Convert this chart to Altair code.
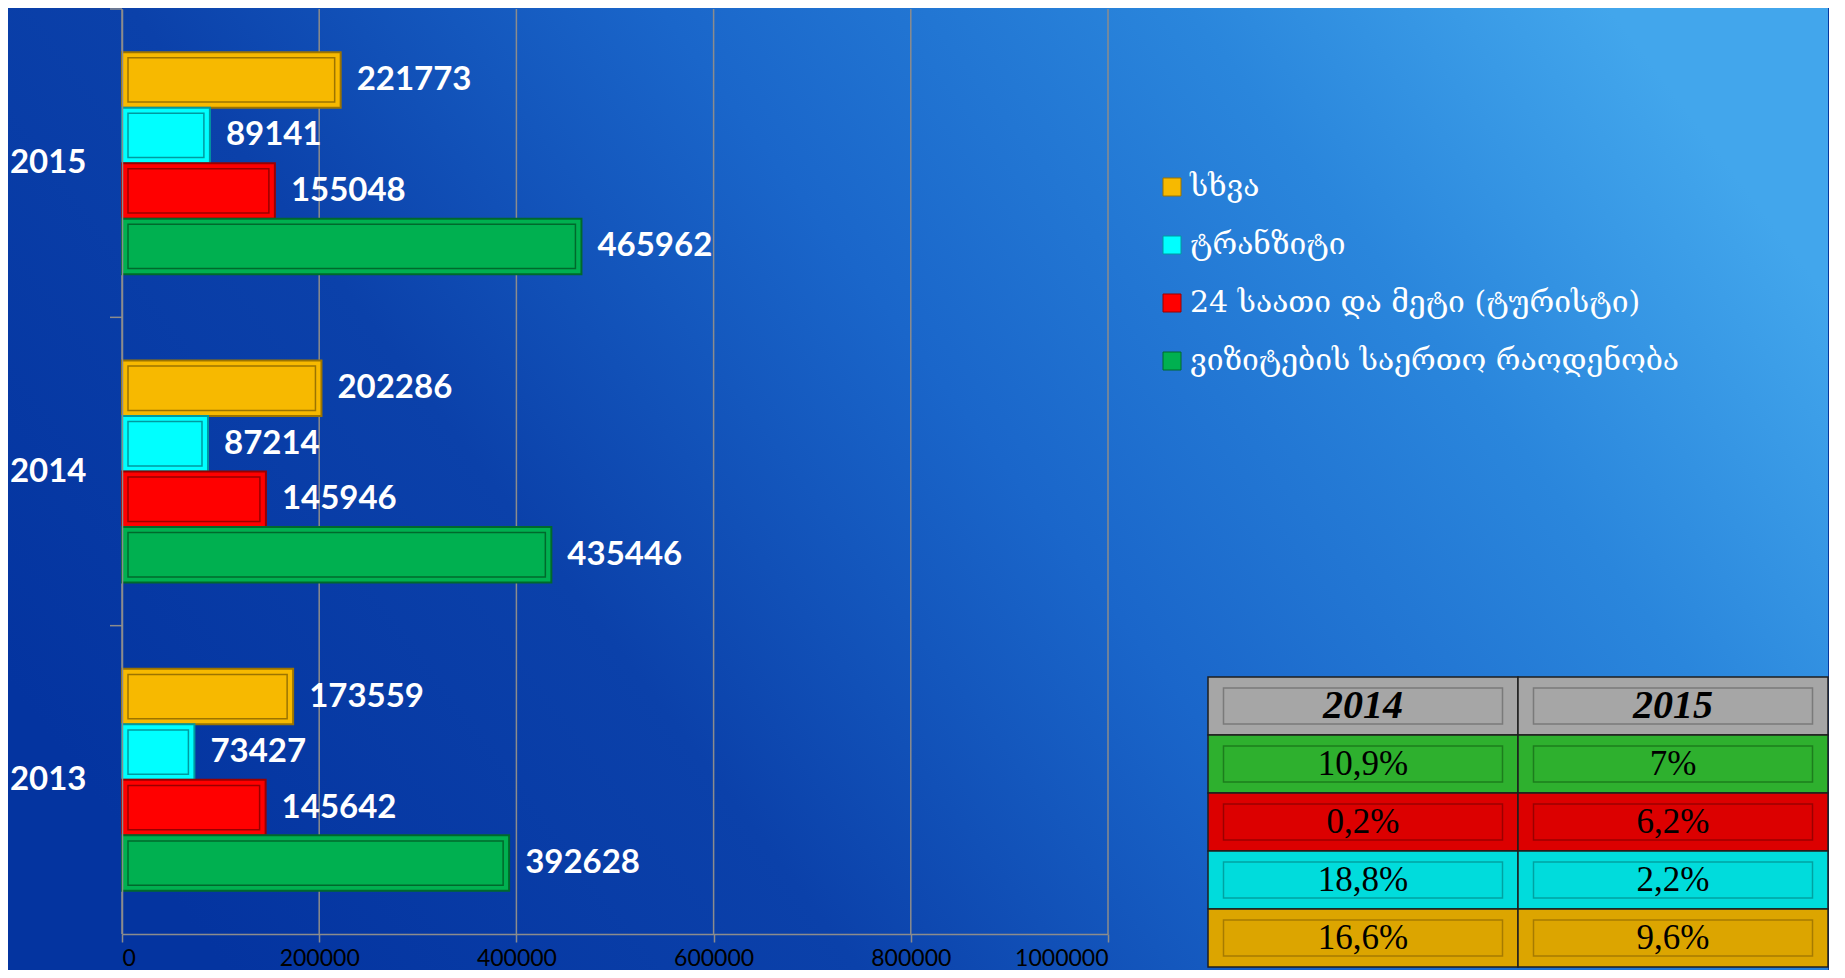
import altair as alt
import pandas as pd

# ---- data ----
years = ["2015", "2014", "2013"]
series = ["სხვა", "ტრანზიტი", "24 საათი და მეტი (ტურისტი)", "ვიზიტების საერთო რაოდენობა"]
values_2015 = [221773, 89141, 155048, 465962]
values_2014 = [202286, 87214, 145946, 435446]
values_2013 = [173559, 73427, 145642, 392628]
x_ticks = [0, 200000, 400000, 600000, 800000, 1000000]

table_cols = ["2014", "2015"]
table_series = ["ვიზიტების საერთო რაოდენობა", "24 საათი და მეტი (ტურისტი)", "ტრანზიტი", "სხვა"]
change_2014 = ["10,9%", "0,2%", "18,8%", "16,6%"]
change_2015 = ["7%", "6,2%", "2,2%", "9,6%"]

# ---- styles ----
bar_colors = ["#f7b900", "#00ffff", "#ff0000", "#00b050"]
bar_edges = ["#9c7400", "#009aa0", "#990000", "#00692c"]
row_keys = ["header"] + table_series
row_colors = ["#a6a6a6", "#2eb02e", "#dc0000", "#00dcdc", "#dca500"]
row_inner = ["#7a7a7a", "#1d7d1d", "#9a0000", "#00a2a2", "#a67b00"]
grid_gray = "#8c8c8c"

vals = {"2015": values_2015, "2014": values_2014, "2013": values_2013}
df = pd.DataFrame(
    [{"year": y, "series": s, "value": v} for y in years for s, v in zip(series, vals[y])]
)
ticks_df = pd.DataFrame({"t": x_ticks})
years_df = pd.DataFrame({"year": years})

rows = []
for c, changes in zip(table_cols, [change_2014, change_2015]):
    rows.append({"col": c, "row": "header", "text": c})
    for s, t in zip(table_series, changes):
        rows.append({"col": c, "row": s, "text": t})
tdf = pd.DataFrame(rows)

# ---- background ----
bg = alt.Chart(pd.DataFrame({"k": [0]})).mark_rect(
    color=alt.Gradient(
        gradient="linear",
        stops=[
            alt.GradientStop(color="#0434a0", offset=0),
            alt.GradientStop(color="#0b41aa", offset=0.3),
            alt.GradientStop(color="#1a66ca", offset=0.55),
            alt.GradientStop(color="#2a86dc", offset=0.8),
            alt.GradientStop(color="#42a6ec", offset=1),
        ],
        x1=0, y1=0.7, x2=1, y2=0.3,
    )
).encode(x=alt.value(-114), x2=alt.value(1706), y=alt.value(-1), y2=alt.value(961))

# ---- bars ----
y_scale = alt.Scale(domain=years, paddingInner=0, paddingOuter=0)
y_enc = alt.Y(
    "year:N", sort=years, title=None, scale=y_scale,
    axis=alt.Axis(
        labelFont="Lato", labelFontSize=33, labelFontWeight="bold",
        labelColor="white", domainColor=grid_gray, ticks=False,
        labelPadding=36, domainWidth=1.5, grid=False, zindex=1,
    ),
)
yoff = alt.YOffset("series:N", sort=series, scale=alt.Scale(paddingInner=0, paddingOuter=0.778))
yoff_inner = alt.YOffset("series:N", sort=series, scale=alt.Scale(paddingInner=0.2, paddingOuter=0.878))
x_scale = alt.Scale(domain=[0, 1000000], nice=False)
x_enc = alt.X(
    "value:Q", title=None, scale=x_scale,
    axis=alt.Axis(
        values=x_ticks, format="d", grid=False,
        domainColor=grid_gray, domainWidth=1.5, tickColor=grid_gray, tickWidth=1.5, tickSize=8,
        labelFont="Lato", labelFontSize=23, labelColor="#000000", labelPadding=5, zindex=1,
    ),
)

grid = alt.Chart(ticks_df).mark_rule(color=grid_gray, strokeWidth=1.5).encode(
    x=alt.X("t:Q", scale=x_scale, title=None)
)

# category-boundary ticks on the y axis
ytick = alt.Chart(years_df).mark_rule(color=grid_gray, strokeWidth=1.5).encode(
    y=alt.Y("year:N", sort=years, scale=y_scale, bandPosition=0),
    x=alt.value(-12), x2=alt.value(0),
)

base = alt.Chart(df).encode(x=x_enc, y=y_enc)
stroke_enc = alt.Stroke("series:N", sort=series,
                        scale=alt.Scale(domain=series, range=bar_edges), legend=None)

bars = base.mark_bar(strokeWidth=2).encode(
    yOffset=yoff,
    color=alt.Color(
        "series:N", sort=series,
        scale=alt.Scale(domain=series, range=bar_colors),
        legend=alt.Legend(
            title=None, orient="none", legendX=1035, legendY=163,
            labelFont="DejaVu Serif", labelFontSize=30, labelColor="white", labelLimit=800,
            symbolType="square", symbolSize=324, symbolStrokeColor="#333333",
            symbolStrokeWidth=1, rowPadding=28, labelOffset=3, padding=0,
        ),
    ),
    stroke=stroke_enc,
)

labels = base.mark_text(
    align="left", baseline="middle", dx=16, font="Lato", fontSize=33,
    fontWeight="bold", color="white",
).encode(yOffset=yoff, text=alt.Text("value:Q", format="d"))

inner = base.mark_bar(filled=False, strokeWidth=1.5, xOffset=-6, x2Offset=6).encode(
    x2=alt.datum(0),
    yOffset=yoff_inner,
    stroke=stroke_enc,
)

main_bars = alt.layer(bars, labels)
bar_group = alt.layer(main_bars, inner).resolve_scale(yOffset="independent")
bar_layer = alt.layer(bg, grid, ytick, bar_group)

# ---- table ----
tbase = alt.Chart(tdf).encode(
    x=alt.X("col:N", sort=table_cols, axis=None,
            scale=alt.Scale(range=[1086, 1706], paddingInner=0, paddingOuter=0)),
    y=alt.Y("row:N", sort=row_keys, axis=None,
            scale=alt.Scale(range=[668, 958], paddingInner=0, paddingOuter=0)),
)
cells = tbase.mark_rect(stroke="#1e1e1e", strokeWidth=1.5).encode(
    color=alt.Color("row:N", scale=alt.Scale(domain=row_keys, range=row_colors), legend=None)
)
cell_inner = tbase.mark_bar(
    filled=False, strokeWidth=1.5,
    width=alt.RelativeBandSize(0.9), height=alt.RelativeBandSize(0.62),
).encode(
    stroke=alt.Stroke("row:N", scale=alt.Scale(domain=row_keys, range=row_inner), legend=None)
)
hdr_text = tbase.transform_filter(alt.datum.row == "header").mark_text(
    font="Liberation Serif", fontSize=40, fontStyle="italic", fontWeight="bold",
    color="black", baseline="middle"
).encode(text="text:N")
body_text = tbase.transform_filter(alt.datum.row != "header").mark_text(
    font="Liberation Serif", fontSize=35, color="black", baseline="middle"
).encode(text="text:N")

table_layer = alt.layer(cells, cell_inner, hdr_text, body_text)

chart = alt.layer(bar_layer, table_layer).resolve_scale(
    x="independent", y="independent", color="independent", stroke="independent"
).properties(
    width=986, height=925, padding=0
).configure(background="#0838a0").configure_view(stroke=None)

chart.save("out.html", embed_options={"renderer": "svg", "actions": False})
